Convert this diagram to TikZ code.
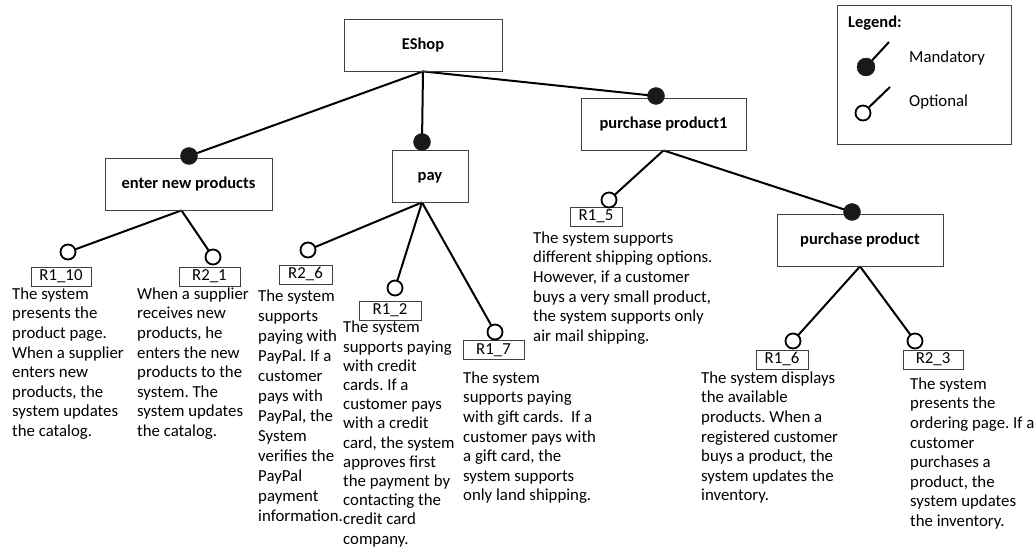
\documentclass[tikz,border=0pt]{standalone}
\usepackage{fontspec}
\setmainfont{Carlito}
\frenchspacing
\usetikzlibrary{positioning,backgrounds}

\begin{document}
\begin{tikzpicture}[x=1pt, y=-1pt,
		feature/.style = {draw=black!75, line width=0.8pt, minimum height=52pt, inner sep=0pt, text height=12pt, text depth=2pt, font=\fontsize{16.5}{19}\selectfont\bfseries},
		mand/.style    = {circle, draw=black!90, fill=black!90, minimum size=17pt, inner sep=0pt},
		opt/.style     = {circle, draw=black, line width=1.8pt, fill=white, minimum size=15pt, inner sep=0pt},
		reqid/.style   = {draw=black!75, line width=0.8pt, fill=white, minimum height=19pt, inner sep=0pt, text height=11pt, text depth=3pt, font=\fontsize{16.8}{19}\selectfont},
		desc/.style    = {anchor=north west, align=left, inner sep=0pt, font=\fontsize{16.8}{19.6}\selectfont},
		link/.style    = {draw, line width=2pt}]
		
		\useasboundingbox (0,0) rectangle (1036,553);
		
		% Root feature and first level features
		\node[feature, minimum width=158pt] (f0) at (423,45) {EShop};
		\node[feature, minimum width=167pt] (f1) at (188.5,184) {enter new products};
		\node[feature, minimum width=76pt] (f2) at (430,176) {pay};
		\node[feature, minimum width=165pt] (f3) at (663.5,124) {purchase product1};
		\node[feature, minimum width=166pt] (f31) at (860,240) {purchase product};
		
		% Mandatory markers sitting on top of the boxes
		\node[mand] (m1) at (189,156) {};
		\node[mand] (m2) at (422,142) {};
		\node[mand] (m3) at (656,96) {};
		\node[mand] (m31) at (852,212) {};
		
		% Requirement ids, relatively small boxes
		\begin{scope}[every node/.style={reqid}]
			\node[minimum width=60pt] (r11) at (61,277) {R1\_10};
			\node[minimum width=61pt] (r12) at (209.5,277) {R2\_1};
			\node[minimum width=53pt] (r21) at (305.5,275) {R2\_6};
			\node[minimum width=62pt] (r22) at (390,310.5) {R1\_2};
			\node[minimum width=61pt] (r23) at (493.5,350) {R1\_7};
			\node[minimum width=52pt] (r31) at (596,217) {R1\_5};
			\node[minimum width=52pt] (r311) at (782,359.5) {R1\_6};
			\node[minimum width=60pt] (r312) at (933,359.5) {R2\_3};
		\end{scope}
		
		% Requirement texts below the ids
		\begin{scope}[every node/.style={desc}]
			\node (t11) at (12,287.5) {The system\\presents the\\product page.\\When a supplier\\enters new\\products, the\\system updates\\the catalog.};
			\node (t12) at (137,287.5) {When a supplier\\receives new\\products, he\\enters the new\\products to the\\system. The\\system updates\\the catalog.};
			\node[font=\fontsize{16.8}{20}\selectfont] (t21) at (258,289.5) {The system\\supports\\paying with\\PayPal. If a\\customer\\pays with\\PayPal, the\\System\\verifies the\\PayPal\\payment\\information.};
			\node[font=\fontsize{16.8}{19.2}\selectfont] (t22) at (343,321) {The system\\supports paying\\with credit\\cards. If a\\customer pays\\with a credit\\card, the system\\approves first\\the payment by\\contacting the\\credit card\\company.};
			\node (t23) at (463,371.5) {The system\\supports paying\\with gift cards.\ \ If a\\customer pays with\\a gift card, the\\system supports\\only land shipping.};
			\node (t31) at (533,231.5) {The system supports\\different shipping options.\\However, if a customer\\buys a very small product,\\the system supports only\\air mail shipping.};
			\node (t311) at (701,371.5) {The system displays\\the available\\products. When a\\registered customer\\buys a product, the\\system updates the\\inventory.};
			\node (t312) at (910,377.5) {The system\\presents the\\ordering page. If a\\customer\\purchases a\\product, the\\system updates\\the inventory.};
		\end{scope}
		
		% Optional markers above the ids
		\node[opt] (o11) at (68,252) {};
		\node[opt] (o12) at (213,257) {};
		\node[opt] (o21) at (308,250) {};
		\node[opt] (o22) at (395,288) {};
		\node[opt] (o23) at (495,332) {};
		\node[opt] (o31) at (609,200) {};
		\node[opt] (o311) at (793,341) {};
		\node[opt] (o312) at (915,341) {};
		
		% Lines from each feature to its children, kept behind the markers
		\begin{pgfonlayer}{background}
			\foreach \value in {1,2,3}
			\draw[link] (f0.south) -- (m\value.center);
			
			\foreach \value in {1,2}
			\draw[link] ([xshift=-7pt]f1.south) -- (o1\value.center);
			
			\foreach \value in {1,2,3}
			\draw[link] (f2.south -| m2) -- (o2\value.center);
			
			\draw[link] (f3.south) -- (o31.center);
			\draw[link] (f3.south) -- (m31.center);
			
			\foreach \value in {1,2}
			\draw[link] (f31.south) -- (o31\value.center);
		\end{pgfonlayer}
		
		% Legend
		\node[draw=black!75, line width=0.8pt, minimum width=174pt, minimum height=139pt] (legend) at (924,74.5) {};
		\node[anchor=west, inner sep=0pt, font=\fontsize{16.5}{19}\selectfont\bfseries] (ltitle) at (848,23) {Legend:};
		\node[mand, minimum size=18pt] (lm) at (866,67) {};
		\coordinate (lm-end) at (889,42);
		\draw[link] (lm) -- (lm-end);
		\node[anchor=west, inner sep=0pt, font=\fontsize{16.8}{19}\selectfont] (lmt) at (909,58) {Mandatory};
		\node[opt] (lo) at (863,113) {};
		\coordinate (lo-end) at (890,87);
		\draw[link] (lo) -- (lo-end);
		\node[anchor=west, inner sep=0pt, font=\fontsize{16.8}{19}\selectfont] (lot) at (909,102) {Optional};
		
	\end{tikzpicture}
\end{document}
